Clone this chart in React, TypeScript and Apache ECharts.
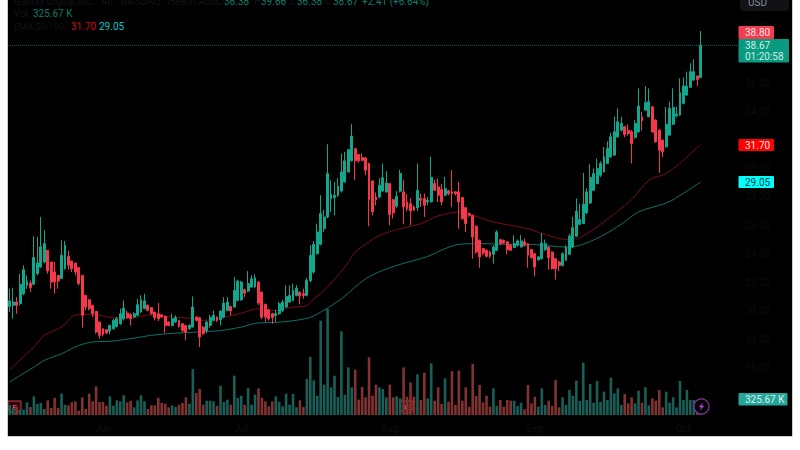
import React, { useEffect, useRef } from "react";
import * as echarts from "echarts";

const CHART_W = 784;
const CHART_H = 436;
const FONT = "Roboto, sans-serif";

// [open, close, low, high]
const candles = [
[20.30,20.68,19.90,21.54],[20.37,20.61,19.43,21.61],[20.61,20.37,19.78,20.96],[20.49,21.85,20.37,22.60],[21.19,22.88,21.08,23.19],
[21.78,22.08,21.54,22.48],[21.94,21.61,21.31,22.13],[21.85,23.73,21.78,25.23],[22.60,23.35,22.48,25.18],[23.07,24.48,23.02,26.59],
[23.42,24.71,23.31,25.65],[24.24,22.79,22.60,24.24],[23.42,22.01,21.54,23.42],[22.72,22.01,21.19,23.42],[22.48,22.08,21.54,22.48],
[22.25,23.89,22.25,24.95],[22.95,24.60,22.88,24.90],[23.82,23.19,22.88,24.20],[23.49,22.95,22.72,23.49],[23.35,22.72,22.48,23.35],
[23.02,21.90,21.78,23.02],[22.48,19.67,18.80,22.48],[21.08,20.25,20.02,21.08],[20.77,20.14,20.02,20.77],[20.37,19.78,19.55,20.37],
[19.95,18.49,18.38,19.95],[19.20,18.26,18.02,19.20],[18.73,18.33,18.19,18.73],[18.66,18.42,18.33,18.66],[18.56,18.96,18.33,19.00],
[18.73,19.31,18.66,19.43],[18.89,19.43,18.80,19.55],[19.08,19.78,19.00,20.14],[19.43,20.18,19.31,20.72],[19.83,19.50,19.43,20.00],
[19.74,19.43,18.96,19.80],[19.55,19.78,19.50,19.90],[19.67,20.42,19.60,20.84],[19.90,20.77,19.85,21.08],[20.14,20.68,20.10,21.19],
[20.37,20.02,19.95,20.45],[20.21,19.78,19.70,20.21],[19.90,19.50,19.31,19.90],[19.78,19.43,19.27,20.53],[19.71,19.55,19.50,19.75],
[19.60,18.96,18.42,19.65],[19.20,18.96,18.90,19.25],[18.96,19.43,18.90,19.78],[19.20,19.50,19.15,19.67],[19.31,18.89,18.80,19.35],
[19.08,18.61,18.50,19.10],[18.96,18.49,17.91,19.00],[18.73,18.96,18.66,19.05],[18.85,20.25,18.80,21.00],[19.55,19.31,19.25,19.60],
[19.50,18.14,17.44,19.55],[18.84,18.37,18.30,18.90],[18.60,19.19,18.40,19.30],[18.96,19.54,18.80,19.70],[19.31,19.66,19.25,20.01],
[19.54,19.31,19.20,19.60],[19.36,19.97,18.95,20.00],[19.54,20.53,19.45,20.95],[20.01,20.60,19.95,20.95],[20.29,19.97,19.66,20.35],
[20.25,21.42,20.20,22.36],[20.72,22.08,20.65,22.17],[20.76,22.01,20.70,22.10],[21.47,21.23,20.95,21.55],[21.37,21.89,21.30,22.78],
[21.66,22.24,21.60,22.48],[21.66,22.31,21.60,22.55],[22.01,20.53,20.40,22.05],[21.30,19.54,19.40,21.35],[20.43,19.54,19.19,20.50],
[20.06,19.43,19.30,20.10],[19.78,19.50,19.07,19.85],[19.66,19.78,19.19,20.06],[19.78,20.48,19.70,20.60],[20.01,20.60,19.90,20.75],
[20.25,21.00,20.20,21.77],[20.60,21.07,20.55,21.77],[20.72,21.42,20.65,21.89],[21.07,21.58,21.00,21.80],[21.30,21.02,20.43,21.35],
[21.19,21.07,20.83,21.54],[21.07,22.12,21.00,22.30],[22.12,23.88,22.00,24.60],[22.71,24.66,22.60,24.90],[24.00,25.53,23.95,26.11],
[24.66,26.82,24.60,28.11],[25.76,26.58,25.53,27.10],[26.58,29.63,26.50,31.70],[27.87,28.18,26.94,29.17],[27.95,28.11,26.70,29.05],
[28.11,28.74,28.00,29.30],[28.41,29.75,28.30,31.04],[29.05,30.53,29.00,31.16],[29.75,31.32,29.70,31.35],[30.53,32.26,30.50,33.11],
[31.39,30.53,29.17,31.40],[30.97,30.53,30.40,31.00],[30.76,30.57,30.50,31.05],[30.74,29.87,29.52,30.80],[30.34,27.80,25.93,30.40],
[29.12,26.94,26.70,29.15],[27.99,27.80,27.40,28.30],[27.99,28.81,27.90,29.30],[28.41,29.35,28.35,30.34],[28.34,28.98,28.30,29.80],
[28.93,26.75,26.00,28.95],[27.80,26.87,26.47,27.85],[27.34,28.04,27.20,28.40],[28.40,29.65,28.30,29.90],[28.35,27.29,26.07,29.20],
[27.64,27.17,27.00,28.20],[27.52,27.01,26.00,27.90],[27.29,27.06,27.00,27.40],[27.24,28.46,27.00,30.34],[27.88,27.76,27.29,28.23],
[27.88,27.41,26.59,28.23],[27.64,27.76,27.40,28.00],[27.64,29.36,27.60,30.81],[28.93,28.46,28.40,29.20],[28.70,28.11,27.64,29.29],
[28.51,27.64,27.41,28.90],[28.11,28.58,28.05,29.40],[28.42,28.23,28.10,28.50],[28.35,28.23,27.29,29.87],[28.35,28.23,28.10,28.40],
[28.35,27.64,25.76,29.05],[27.95,26.47,26.40,28.00],[27.24,26.12,25.53,27.30],[26.82,26.70,26.60,26.90],[26.70,25.18,23.65,26.75],
[25.93,24.12,24.00,26.00],[24.94,23.77,23.02,25.00],[24.36,24.05,23.90,24.40],[24.24,23.82,23.75,24.30],[24.12,23.82,23.70,24.20],
[23.96,24.47,23.30,24.60],[24.24,25.53,24.20,25.65],[24.99,24.71,24.60,25.05],[24.94,24.76,24.70,25.00],[24.83,24.29,23.96,24.90],
[24.59,24.24,24.20,24.70],[24.43,24.71,24.40,25.30],[24.59,24.90,24.50,25.00],[24.47,24.90,24.45,25.30],[24.83,24.59,24.50,25.06],
[24.71,23.89,23.02,24.75],[24.29,23.72,23.65,24.30],[24.00,23.07,22.41,24.05],[23.58,23.77,23.50,23.85],[23.65,24.76,23.60,25.46],
[24.29,24.71,24.20,25.00],[24.47,23.72,22.88,24.50],[24.12,22.95,22.90,24.15],[23.65,22.95,22.17,23.70],[23.42,23.18,22.78,23.50],
[23.18,24.00,23.10,24.10],[23.54,24.43,23.50,24.60],[23.96,25.23,23.90,25.40],[24.47,25.83,24.40,26.59],[25.23,26.99,25.20,27.88],
[26.07,26.40,26.00,27.52],[26.12,27.48,26.10,29.68],[26.87,28.35,26.80,28.60],[27.57,29.36,27.50,30.29],[28.46,29.64,28.40,30.00],
[28.93,29.99,28.90,30.69],[29.52,30.35,29.40,30.50],[29.76,30.81,29.70,31.50],[30.35,31.40,30.30,31.90],[30.81,32.22,30.75,32.50],
[30.93,32.57,30.90,33.63],[32.22,33.28,32.15,34.22],[32.69,33.16,32.60,33.63],[32.93,32.39,32.20,33.00],[32.69,32.46,32.30,33.10],
[32.57,31.75,30.35,32.70],[32.18,33.16,32.10,33.40],[32.57,34.38,32.50,35.63],[33.63,33.35,32.65,33.98],[34.10,34.62,34.05,35.79],
[33.63,34.69,33.60,35.63],[34.33,32.57,32.50,34.40],[33.40,31.87,31.80,33.45],[32.69,31.28,29.69,32.75],[31.99,31.17,30.81,32.00],
[31.52,33.11,31.45,34.33],[32.34,34.22,32.30,34.69],[33.11,34.29,33.05,35.63],[33.70,33.82,33.58,34.33],[33.75,35.32,33.70,36.33],
[34.57,35.79,34.50,36.40],[35.16,35.79,35.10,36.80],[35.70,36.80,35.65,37.40],[36.21,36.80,36.15,37.67],[36.50,36.26,35.79,36.55],
[36.38,38.67,36.38,39.66],
];

// Volume in thousands of shares
const volumes = [
210,140,175,105,112,266,168,392,231,252,126,308,147,357,147,448,217,203,266,287,
91,371,126,448,287,602,273,273,196,392,196,308,287,413,266,301,161,308,413,287,
126,203,203,364,252,238,161,203,168,217,252,371,238,966,462,546,217,301,301,287,
196,616,273,322,217,826,357,406,217,567,217,427,560,357,287,182,287,392,273,182,
448,217,441,161,308,168,756,1218,728,406,1981,637,2226,581,826,378,1757,427,1001,581,
952,322,588,371,1211,406,637,581,546,371,637,371,392,350,1001,385,686,385,854,315,
889,350,1085,301,581,231,770,280,924,210,931,301,581,175,1071,399,630,266,406,175,
560,189,315,175,315,301,301,189,259,119,630,245,385,175,560,210,301,189,735,161,
371,210,525,406,721,294,1099,315,651,259,714,273,490,315,784,455,560,210,441,245,
371,245,511,259,581,203,350,301,525,161,490,259,371,161,714,315,525,315,315,280,
325.67,
];

// [bar index, EMA value], read at the bends of each line
const ema50 = [[0,15.84],[3,16.54],[7,17.44],[10,18.26],[15,18.84],[18,19.55],[20,19.74],[24,19.74],[30,19.50],[36,19.50],[40,19.69],[45,19.60],[53,19.43],
[55,19.30],[61,19.49],[67,19.82],[72,20.13],[77,20.01],[82,20.24],[86,20.36],[88,20.83],[91,21.42],[97,23.06],[100,24.12],[103,24.66],[107,25.29],[112,25.69],
[113,25.76],[119,26.12],[124,26.66],[130,26.94],[134,26.70],[140,26.23],[150,25.76],[155,25.34],[161,25.01],[165,25.13],[171,26.07],[180,27.80],[185,29.17],[190,29.64],[195,30.58],[200,31.70]];
const ema100 = [[0,14.97],[3,15.44],[7,16.03],[10,16.50],[15,16.97],[20,17.55],[24,17.79],[30,17.86],[36,18.07],[41,18.26],[47,18.40],[54,18.49],
[61,18.60],[67,18.84],[72,19.14],[77,19.17],[86,19.45],[90,19.89],[96,20.83],[103,22.24],[108,22.83],[113,23.25],
[121,23.81],[126,24.36],[130,24.66],[136,24.71],[144,24.66],[152,24.64],[161,24.47],[165,24.59],[171,25.20],[177,26.07],[182,26.94],[189,27.48],[192,27.80],[200,29.05]];

const BAR_SLOTS = 211;
const monthLabels: [number, string][] = [[27,"Jun"],[67,"Jul"],[110,"Aug"],[152,"Sep"],[195,"Oct"]];
const categories: string[] = new Array(BAR_SLOTS).fill("");
monthLabels.forEach(([i, m]) => { categories[i] = m; });

const priceTicks = { min: 16, max: 40, interval: 2 };
const hiddenTicks = [32, 38]; // covered by the price tags in the reference
const quoteClose = 38.67;
const headerName = "Galaxy Digital Inc. · 4h · NASDAQ · Heikin Ashi";

const UP = "#12a68c";
const DOWN = "#f5384a";
const FAINT = "#121318";
const AXIS_FAINT = "#0b0c0f";
const HEADER_TEAL = "#0d7f6e";

// px is a reference-picture x; the chart div begins at px 8
const X = (px: number) => px - 8;

function txt(px: number, y: number, text: string, fill: string, extra: any = {}) {
  return {
    type: "text", x: X(px), y, z: 20,
    style: { text, fill, font: `10px ${FONT}`, textVerticalAlign: "middle", ...extra },
  };
}
function box(px: number, y: number, w: number, h: number, fill: string, r = 1) {
  return { type: "rect", x: X(px), y, z: 19, shape: { x: 0, y: 0, width: w, height: h, r }, style: { fill } };
}
function earnings(px: number, y: number) {
  return {
    type: "group", x: X(px), y, z: 15,
    children: [
      { type: "polygon", shape: { points: [[0,1],[13,1],[13,10],[6.5,14],[0,10]] }, style: { fill: "#2a090d", stroke: "#c4414a", lineWidth: 1 } },
      { type: "text", x: 6.5, y: 7, style: { text: "E", fill: "#d94f58", font: `bold 8px ${FONT}`, align: "center", verticalAlign: "middle" } },
    ],
  };
}

export default function App() {
  const ref = useRef<HTMLDivElement>(null);
  useEffect(() => {
    if (!ref.current) return;
    const chart = echarts.init(ref.current, undefined, { renderer: "svg" });
    chart.setOption({
      animation: false,
      backgroundColor: "#000000",
      grid: [
        { left: 0, width: 729, top: 26.2, height: 341.3 },
        { left: 0, width: 729, top: 295, height: 120 },
      ],
      xAxis: [
        { type: "category", gridIndex: 0, data: categories, axisLine: { show: false }, axisTick: { show: false }, axisLabel: { show: false }, splitLine: { show: false } },
        {
          type: "category", gridIndex: 1, data: categories,
          axisLine: { show: false }, axisTick: { show: false }, splitLine: { show: false },
          axisLabel: {
            show: true, interval: (_: number, v: string) => v !== "", color: AXIS_FAINT, margin: 8,
            fontFamily: FONT, fontSize: 10, fontWeight: 500,
          },
        },
      ],
      yAxis: [
        {
          type: "value", gridIndex: 0, position: "right", ...priceTicks,
          axisLine: { show: false }, axisTick: { show: false }, splitLine: { show: false },
          axisLabel: {
            color: AXIS_FAINT, margin: 8, fontFamily: FONT, fontSize: 10,
            formatter: (v: number) => (hiddenTicks.includes(v) ? "" : v.toFixed(2)),
          },
        },
        { type: "value", gridIndex: 1, min: 0, max: 2520, show: false, splitLine: { show: false } },
      ],
      series: [
        {
          name: "EMA 100", type: "line", xAxisIndex: 0, yAxisIndex: 0, data: ema100, symbol: "none", z: 2, clip: false, smooth: 0.3,
          lineStyle: { color: "#10706a", width: 1 },
        },
        {
          name: "EMA 50", type: "line", xAxisIndex: 0, yAxisIndex: 0, data: ema50, symbol: "none", z: 2, clip: false, smooth: 0.3,
          lineStyle: { color: "#7a0c10", width: 1 },
        },
        {
          name: "Price", type: "candlestick", xAxisIndex: 0, yAxisIndex: 0, data: candles, barWidth: 2.4, z: 3,
          itemStyle: { color: UP, color0: DOWN, borderColor: UP, borderColor0: DOWN, borderWidth: 1 },
          markLine: {
            silent: true, symbol: "none", label: { show: false },
            lineStyle: { color: "#0b5c50", type: "dotted", width: 1 },
            data: [{ yAxis: quoteClose }],
          },
        },
        {
          name: "Vol", type: "bar", xAxisIndex: 1, yAxisIndex: 1, barWidth: 2.6, z: 1,
          data: volumes.map((v, i) => ({
            value: v,
            itemStyle: { color: candles[i][1] >= candles[i][0] ? "#1a5f57" : "#803331" },
          })),
        },
      ],
      graphic: [
        txt(14, 1, headerName, FAINT, { font: `10.1px ${FONT}` }),
        txt(217, 1, "O", FAINT), txt(224, 1, "36.38", HEADER_TEAL),
        txt(254, 1, "H", FAINT), txt(261, 1, "39.66", HEADER_TEAL),
        txt(290, 1, "L", FAINT), txt(297, 1, "36.38", HEADER_TEAL),
        txt(325, 1, "C", FAINT), txt(333, 1, "38.67", HEADER_TEAL),
        txt(362, 1, "+2.41 (+6.64%)", HEADER_TEAL),
        txt(14, 13.5, "Vol", FAINT),
        txt(33, 13.5, "325.67 K", HEADER_TEAL),
        txt(14, 26.5, "EMA 50/100", FAINT, { font: `9px ${FONT}` }),
        txt(71, 26.5, "31.70", "#c80a0e"),
        txt(99, 26.5, "29.05", "#0cc7c7"),

        box(740, -2, 49, 13, "#111216", 3),
        txt(748, 2, "USD", "#8a8d94"),

        box(738.5, 26, 35.5, 13, "#f23d4f"),
        txt(745, 32.5, "38.80", "#ffe3e6"),
        box(738.5, 39, 50.5, 23.5, "#0a9a80"),
        txt(745, 50.5, "38.67\n01:20:58", "#cdeee6", { lineHeight: 11 }),
        box(738.5, 139, 35.5, 12, "#ff0000"),
        txt(745, 145, "31.70", "#ffe9e9"),
        box(738.5, 176, 35.5, 12, "#00ffff"),
        txt(745, 182, "29.05", "#06403f"),
        box(738.5, 393, 49, 12.5, "#26a69a"),
        txt(745, 399.5, "325.67 K", "#d8f3ef"),

        earnings(8, 400),
        earnings(400, 400),

        {
          type: "circle", x: X(701.5), y: 406.5, z: 16,
          shape: { cx: 0, cy: 0, r: 7.5 }, style: { fill: "#000000", stroke: "#8b2fa3", lineWidth: 1.2 },
        },
        {
          type: "polygon", x: X(701.5), y: 406.5, z: 17,
          shape: { points: [[1.5,-4],[-3,0.8],[-0.4,0.8],[-1.5,4],[3,-0.8],[0.4,-0.8]] }, style: { fill: "#a845c4" },
        },
      ],
    });
    return () => chart.dispose();
  }, []);

  return (
    <div style={{ position: "fixed", left: 0, top: 0, width: 800, height: 450, background: "#ffffff", overflow: "hidden" }}>
      <div
        ref={ref}
        style={{
          position: "absolute", left: 8, top: 0, width: CHART_W, height: CHART_H,
          boxShadow: "0 0 0 0.5px #9a9a9a",
        }}
      />
    </div>
  );
}
